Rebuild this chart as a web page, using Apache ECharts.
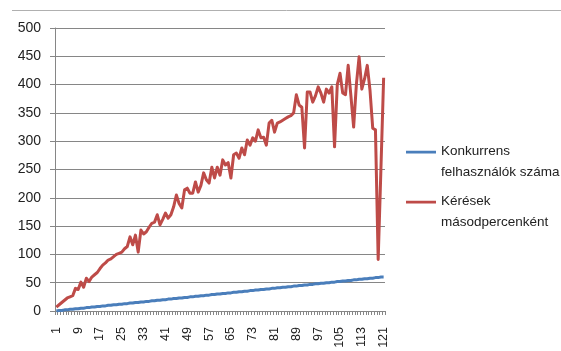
<!DOCTYPE html>
<html>
<head>
<meta charset="utf-8">
<script src="https://cdn.jsdelivr.net/npm/echarts@6/dist/echarts.min.js"></script>
<style>
  html, body { margin: 0; padding: 0; background: #fff; }
  #chart { width: 561px; height: 351px; }
</style>
</head>
<body>
<div id="chart"></div>
<script>
// Seconds of the load test (category axis 1..121)
const seconds = Array.from({ length: 121 }, (_, i) => String(i + 1));

// Number of concurrent users at each second
const concurrentUsers = [
  0, 1, 1, 2, 2, 3, 3, 4, 4, 5, 5, 6, 6, 7, 7, 8, 8, 9, 9, 10,
  10, 11, 11, 12, 12, 13, 13, 14, 14, 15, 15, 16, 16, 17, 17, 18, 18, 19, 19, 20,
  20, 21, 21, 22, 22, 23, 23, 24, 24, 25, 25, 26, 26, 27, 27, 28, 28, 29, 29, 30,
  30, 31, 31, 32, 32, 33, 33, 34, 34, 35, 35, 36, 36, 37, 37, 38, 38, 39, 39, 40,
  40, 41, 41, 42, 42, 43, 43, 44, 44, 45, 45, 46, 46, 47, 47, 48, 48, 49, 49, 50,
  50, 51, 51, 52, 52, 53, 53, 54, 54, 55, 55, 56, 56, 57, 57, 58, 58, 59, 59, 60,
  60
];

// Requests served per second
const requestsPerSecond = [
  7, 11, 15, 19, 23, 25, 27, 40, 38, 51,
  42, 58, 52, 60, 64, 68, 75, 81, 85, 90,
  92, 96, 100, 102, 104, 110, 114, 131, 117, 134,
  104, 143, 136, 140, 148, 155, 157, 170, 152, 162,
  173, 164, 170, 184, 205, 190, 182, 214, 217, 208,
  208, 228, 210, 222, 244, 232, 226, 254, 235, 254,
  240, 267, 258, 262, 235, 276, 279, 270, 288, 276,
  302, 293, 306, 300, 320, 306, 307, 293, 332, 337,
  316, 332, 334, 337, 340, 343, 345, 350, 382, 364,
  360, 288, 387, 387, 369, 380, 396, 385, 369, 392,
  385, 396, 290, 400, 420, 385, 382, 434, 380, 325,
  400, 449, 392, 410, 434, 390, 323, 320, 91, 250,
  412
];

const seriesNames = ['Konkurrens\nfelhasználók száma', 'Kérések\nmásodpercenként'];
const seriesColors = ['#4A7EBB', '#BE4B48'];

// Line icon sitting level with the first text line of a two-line legend entry
const legendIcon = 'path://M0,0h0.01v0.01h-0.01Z M0,9H32V12H0Z M0,41.99h0.01v0.01h-0.01Z';

const chart = echarts.init(document.getElementById('chart'), null, { renderer: 'canvas' });

chart.setOption({
  animation: false,
  backgroundColor: '#fff',
  textStyle: { fontFamily: 'Liberation Sans, Arial, sans-serif' },
  grid: { left: 55, right: 176, top: 28, bottom: 40, containLabel: false },
  graphic: [{
    type: 'line',
    shape: { x1: 12, y1: 10.5, x2: 561, y2: 10.5 },
    style: { stroke: '#b0b0b0', lineWidth: 1 }
  }],
  legend: {
    orient: 'vertical',
    left: 406,
    top: 141,
    padding: 0,
    itemGap: 8,
    itemWidth: 30,
    itemHeight: 42,
    icon: legendIcon,
    data: seriesNames,
    textStyle: { fontSize: 13.5, lineHeight: 21, color: '#222' }
  },
  xAxis: {
    type: 'category',
    data: seconds,
    boundaryGap: true,
    axisLine: { lineStyle: { color: '#868686', width: 1 } },
    axisTick: { show: true, interval: 0, length: 4, lineStyle: { color: '#868686' } },
    axisLabel: { interval: 7, rotate: 90, margin: 16, fontSize: 12.5, color: '#222' },
    splitLine: { show: false }
  },
  yAxis: {
    type: 'value',
    min: 0,
    max: 500,
    interval: 50,
    axisLine: { show: true, lineStyle: { color: '#868686', width: 1 } },
    axisTick: { show: true, length: 5, lineStyle: { color: '#868686' } },
    axisLabel: { fontSize: 14, color: '#222', margin: 14 },
    splitLine: { show: true, lineStyle: { color: '#868686', width: 1 } }
  },
  series: [
    {
      name: seriesNames[0],
      type: 'line',
      data: concurrentUsers,
      symbol: 'none',
      lineStyle: { color: seriesColors[0], width: 3 },
      itemStyle: { color: seriesColors[0] },
      z: 3
    },
    {
      name: seriesNames[1],
      type: 'line',
      data: requestsPerSecond,
      symbol: 'none',
      lineStyle: { color: seriesColors[1], width: 3, join: 'round' },
      itemStyle: { color: seriesColors[1] },
      z: 2
    }
  ]
});
</script>
</body>
</html>
